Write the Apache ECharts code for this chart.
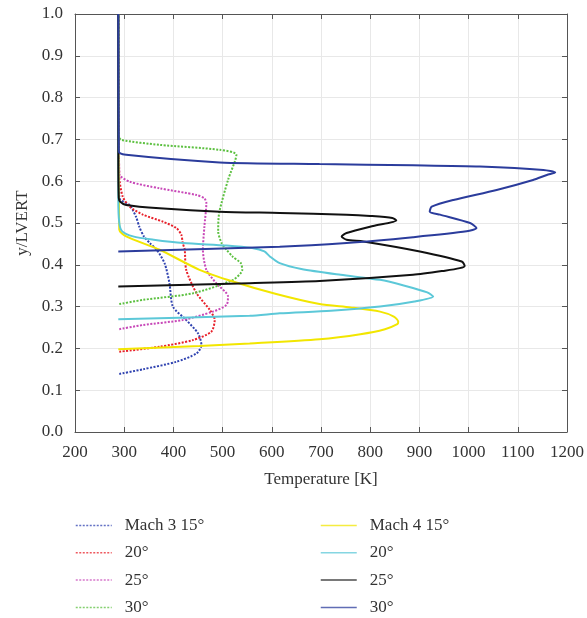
<!DOCTYPE html>
<html>
<head>
<meta charset="utf-8">
<script src="https://cdn.jsdelivr.net/npm/echarts@6/dist/echarts.min.js"></script>
<style>
html,body{margin:0;padding:0;background:#fff;}
#chart{width:587px;height:618px;}
</style>
</head>
<body>
<div id="chart"></div>
<script>
// ---- data (Temperature [K] vs y/LVERT) ----
const xTicks = [200, 300, 400, 500, 600, 700, 800, 900, 1000, 1100, 1200];
const yTicks = [0.0, 0.1, 0.2, 0.3, 0.4, 0.5, 0.6, 0.7, 0.8, 0.9, 1.0];
const seriesNames = ["Mach 3 15°", "Mach 3 20°", "Mach 3 25°", "Mach 3 30°",
                     "Mach 4 15°", "Mach 4 20°", "Mach 4 25°", "Mach 4 30°"];

const m3_15_T = [290, 338, 406, 447, 457, 450, 426, 399, 392, 382, 366, 352, 340, 331, 324, 311, 290, 288];
const m3_15_y = [0.139, 0.150, 0.168, 0.188, 0.208, 0.236, 0.268, 0.300, 0.356, 0.404, 0.436, 0.452, 0.468, 0.490, 0.515, 0.543, 0.560, 1.0];

const m3_20_T = [290, 372, 440, 477, 484, 474, 447, 426, 423, 419, 416, 406, 379, 338, 311, 297, 290, 288];
const m3_20_y = [0.192, 0.204, 0.220, 0.240, 0.268, 0.292, 0.332, 0.388, 0.436, 0.452, 0.472, 0.488, 0.503, 0.520, 0.539, 0.563, 0.611, 1.0];

const m3_25_T = [290, 338, 419, 480, 508, 511, 487, 467, 460, 463, 467, 463, 447, 372, 311, 290, 288];
const m3_25_y = [0.246, 0.256, 0.268, 0.288, 0.304, 0.324, 0.356, 0.388, 0.436, 0.492, 0.548, 0.559, 0.567, 0.583, 0.599, 0.618, 1.0];

const m3_30_T = [290, 338, 440, 521, 540, 537, 520, 508, 498, 491, 493, 511, 528, 494, 372, 294, 288, 288];
const m3_30_y = [0.306, 0.316, 0.332, 0.364, 0.388, 0.404, 0.420, 0.436, 0.452, 0.480, 0.524, 0.603, 0.663, 0.675, 0.687, 0.699, 0.711, 1.0];

const m4_15_T = [288, 453, 555, 697, 780, 830, 855, 857, 848, 820, 760, 697, 609, 521, 453, 372, 304, 290, 288];
const m4_15_y = [0.198, 0.206, 0.212, 0.222, 0.234, 0.246, 0.258, 0.264, 0.276, 0.288, 0.298, 0.306, 0.330, 0.360, 0.388, 0.436, 0.468, 0.484, 1.0];

const m4_20_T = [288, 555, 616, 720, 820, 890, 928, 916, 870, 820, 740, 660, 616, 596, 585, 560, 508, 420, 360, 318, 296, 290, 288, 288];
const m4_20_y = [0.270, 0.278, 0.284, 0.290, 0.300, 0.312, 0.324, 0.334, 0.350, 0.364, 0.376, 0.390, 0.404, 0.420, 0.432, 0.440, 0.446, 0.452, 0.460, 0.468, 0.480, 0.500, 0.560, 1.0];

const m4_25_T = [288, 555, 697, 887, 952, 982, 992, 986, 901, 786, 752, 742, 752, 806, 853, 845, 800, 752, 616, 494, 372, 304, 292, 289, 288, 288];
const m4_25_y = [0.348, 0.356, 0.361, 0.376, 0.386, 0.392, 0.397, 0.408, 0.432, 0.456, 0.460, 0.468, 0.476, 0.493, 0.506, 0.512, 0.517, 0.520, 0.524, 0.527, 0.535, 0.543, 0.551, 0.560, 0.667, 1.0];

const m4_30_T = [288, 616, 752, 887, 996, 1016, 1003, 942, 921, 925, 969, 1057, 1131, 1159, 1176, 1152, 1023, 887, 697, 494, 304, 289, 288];
const m4_30_y = [0.432, 0.443, 0.452, 0.466, 0.480, 0.488, 0.500, 0.520, 0.527, 0.539, 0.555, 0.579, 0.603, 0.615, 0.621, 0.627, 0.635, 0.638, 0.641, 0.645, 0.663, 0.671, 1.0];

const curvesT = [m3_15_T, m3_20_T, m3_25_T, m3_30_T, m4_15_T, m4_20_T, m4_25_T, m4_30_T];
const curvesY = [m3_15_y, m3_20_y, m3_25_y, m3_30_y, m4_15_y, m4_20_y, m4_25_y, m4_30_y];

// ---- styles ----
const colors = ['#2f42b0', '#e8202a', '#c848b8', '#5cc040', '#f2e600', '#5cc8d8', '#111111', '#2b3c9c'];
const FONT = 'Liberation Serif';

const series = seriesNames.map((name, i) => {
  const dotted = i < 4;
  return {
    name: name,
    type: 'line',
    xAxisIndex: 0,
    yAxisIndex: 0,
    symbol: 'none',
    smooth: 0.25,
    data: curvesT[i].map((t, k) => [t, curvesY[i][k]]),
    lineStyle: {
      color: colors[i],
      width: 2,
      type: dotted ? [2, 1.5] : 'solid'
    },
    itemStyle: { color: colors[i] },
    z: 2 + i
  };
});

const legendFormatter = function (name) {
  if (name === 'Mach 3 15°' || name === 'Mach 4 15°') return name;
  return name.split(' ').pop();
};

const axisCommon = {
  axisLine: { show: true, onZero: false, lineStyle: { color: '#555', width: 1 } },
  axisTick: { show: true, inside: true, length: 5, lineStyle: { color: '#555' } },
  splitLine: { show: true, lineStyle: { color: '#e8e8e8', width: 1 } }
};

function makeLegend(names, left) {
  return {
    data: names,
    orient: 'vertical', left: left, top: 517, height: 110, padding: 0, itemGap: 10.3,
    itemWidth: 36, itemHeight: 14,
    formatter: legendFormatter,
    itemStyle: { opacity: 0, borderWidth: 0 },
    lineStyle: { width: 1.5, opacity: 0.75 },
    textStyle: { fontFamily: FONT, fontSize: 17, color: '#333', padding: [0, 0, 0, 8] }
  };
}

const chart = echarts.init(document.getElementById('chart'), null, { renderer: 'canvas' });
chart.setOption({
  animation: false,
  backgroundColor: '#ffffff',
  grid: { left: 75, right: 20, top: 14, bottom: 186, containLabel: false },
  xAxis: [
    Object.assign({
      type: 'value', position: 'bottom', min: xTicks[0], max: xTicks[xTicks.length - 1], interval: 100,
      name: 'Temperature [K]', nameLocation: 'middle', nameGap: 39,
      nameTextStyle: { fontFamily: FONT, fontSize: 17, color: '#333' },
      axisLabel: { fontFamily: FONT, fontSize: 17, color: '#333', margin: 12,
        formatter: v => String(v) }
    }, axisCommon),
    Object.assign({
      type: 'value', position: 'top', min: xTicks[0], max: xTicks[xTicks.length - 1], interval: 100,
      axisLabel: { show: false }
    }, axisCommon, { splitLine: { show: false } })
  ],
  yAxis: [
    Object.assign({
      type: 'value', position: 'left', min: yTicks[0], max: yTicks[yTicks.length - 1], interval: 0.1,
      name: 'y/LVERT', nameLocation: 'middle', nameGap: 42, nameRotate: 90,
      nameTextStyle: { fontFamily: FONT, fontSize: 17, color: '#333' },
      axisLabel: { fontFamily: FONT, fontSize: 17, color: '#333', margin: 12,
        formatter: v => v.toFixed(1) }
    }, axisCommon),
    Object.assign({
      type: 'value', position: 'right', min: yTicks[0], max: yTicks[yTicks.length - 1], interval: 0.1,
      axisLabel: { show: false }
    }, axisCommon, { splitLine: { show: false } })
  ],
  legend: [
    makeLegend(seriesNames.slice(0, 4), 75),
    makeLegend(seriesNames.slice(4), 320)
  ],
  series: series
});
</script>
</body>
</html>
